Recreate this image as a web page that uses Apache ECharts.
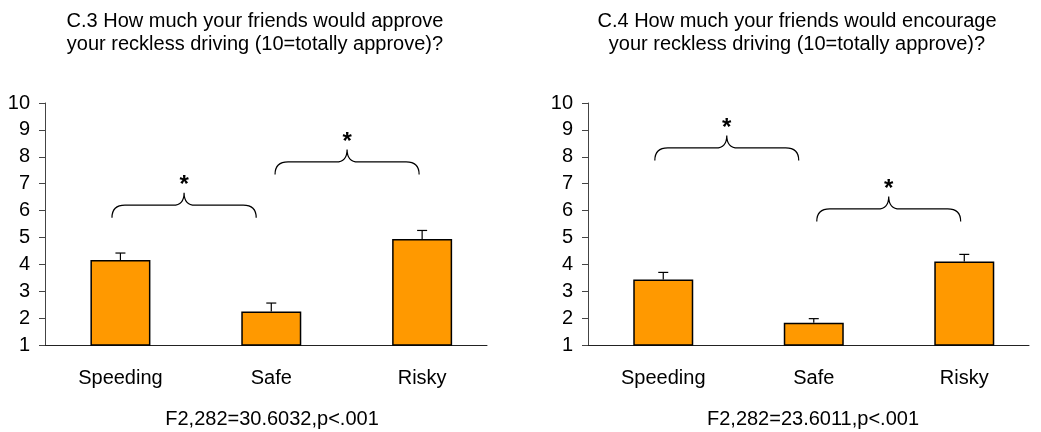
<!DOCTYPE html>
<html>
<head>
<meta charset="utf-8">
<script src="https://cdn.jsdelivr.net/npm/echarts@6/dist/echarts.min.js"></script>
<style>
html,body{margin:0;padding:0;background:#fff;}
#chart{width:1041px;height:432px;}
</style>
</head>
<body>
<div id="chart"></div>
<script>
// ---- data ----
const categories = ['Speeding', 'Safe', 'Risky'];
const yTicks = [1, 2, 3, 4, 5, 6, 7, 8, 9, 10];

const titleC3 = 'C.3 How much your friends would approve\nyour reckless driving (10=totally approve)?';
const titleC4 = 'C.4 How much your friends would encourage\nyour reckless driving (10=totally approve)?';
const footerC3 = 'F2,282=30.6032,p<.001';
const footerC4 = 'F2,282=23.6011,p<.001';

const meanC3 = [4.16, 2.25, 4.94];
const upperC3 = [4.42, 2.56, 5.26];
const meanC4 = [3.44, 1.83, 4.11];
const upperC4 = [3.70, 1.98, 4.37];

// braces: [from (category units), to (category units), level of horizontal stroke]
const bracesC3 = [[-0.056, 0.90, 6.2], [1.025, 1.98, 7.81]];
const bracesC4 = [[-0.056, 0.90, 8.33], [1.02, 1.976, 6.06]];
const braceMark = '*';

// ---- styles ----
const FONT = '"Liberation Sans", Arial, sans-serif';
const BAR_COLOR = '#FF9900';

const chart = echarts.init(document.getElementById('chart'), null, {renderer: 'canvas'});

function makeXAxis(gridIndex) {
  return {
    type: 'value', gridIndex: gridIndex, min: -0.5, max: 2.43,
    splitLine: {show: false},
    axisLine: {show: true, onZero: false, lineStyle: {color: '#222', width: 1}},
    axisTick: {show: false},
    axisLabel: {
      show: true, customValues: categories.map((c, i) => i),
      formatter: v => categories[Math.round(v)] || '',
      color: '#000', fontSize: 20, fontFamily: FONT, margin: 23
    }
  };
}
function makeYAxis(gridIndex) {
  return {
    type: 'value', gridIndex: gridIndex, min: yTicks[0], max: yTicks[yTicks.length - 1], interval: 1,
    splitLine: {show: false},
    axisLine: {show: true, onZero: false, lineStyle: {color: '#444', width: 1}},
    axisTick: {show: true, inside: false, length: 6, lineStyle: {color: '#444'}},
    axisLabel: {color: '#000', fontSize: 20, fontFamily: FONT, margin: 15}
  };
}

function barSeries(idx, means) {
  return {
    type: 'bar', xAxisIndex: idx, yAxisIndex: idx,
    barWidth: 60,
    itemStyle: {color: BAR_COLOR, borderColor: '#000', borderWidth: 1.5},
    data: means.map((v, i) => [i, v]),
    z: 2
  };
}

function errSeries(idx, means, uppers) {
  return {
    type: 'custom', xAxisIndex: idx, yAxisIndex: idx, z: 3,
    data: means.map((v, i) => [i, v, uppers[i]]),
    renderItem: function (params, api) {
      const p0 = api.coord([api.value(0), api.value(1)]);
      const p1 = api.coord([api.value(0), api.value(2)]);
      const st = {stroke: '#000', lineWidth: 1.2, fill: null};
      return {
        type: 'group',
        children: [
          {type: 'line', shape: {x1: p0[0], y1: p0[1], x2: p1[0], y2: p1[1]}, style: st},
          {type: 'line', shape: {x1: p1[0] - 5, y1: p1[1], x2: p1[0] + 5, y2: p1[1]}, style: st}
        ]
      };
    }
  };
}

function braceSeries(idx, braces) {
  return {
    type: 'custom', xAxisIndex: idx, yAxisIndex: idx, z: 4, clip: false,
    data: braces,
    renderItem: function (params, api) {
      const a = api.coord([api.value(0), api.value(2)]);
      const b = api.coord([api.value(1), api.value(2)]);
      const yH = a[1];
      const yE = yH + 12.5;
      const yP = yH - 12.5;
      const xa = a[0], xb = b[0], xm = (xa + xb) / 2;
      const re = 13, rm = 11;
      const d = 'M' + xa + ' ' + yE +
        ' Q' + xa + ' ' + yH + ' ' + (xa + re) + ' ' + yH +
        ' L' + (xm - rm) + ' ' + yH +
        ' Q' + xm + ' ' + yH + ' ' + xm + ' ' + yP +
        ' Q' + xm + ' ' + yH + ' ' + (xm + rm) + ' ' + yH +
        ' L' + (xb - re) + ' ' + yH +
        ' Q' + xb + ' ' + yH + ' ' + xb + ' ' + yE;
      return {
        type: 'group',
        children: [
          {type: 'path', shape: {pathData: d}, style: {stroke: '#000', lineWidth: 1.2, fill: null}},
          {type: 'text', x: xm, y: yP - 7, style: {text: braceMark, fill: '#000', font: 'bold 24px ' + FONT, textAlign: 'center', textVerticalAlign: 'middle'}}
        ]
      };
    }
  };
}

const option = {
  backgroundColor: '#fff',
  animation: false,
  title: [
    {text: titleC3, left: 255, top: 10, textAlign: 'center', padding: 0,
     textStyle: {fontSize: 20, fontWeight: 'normal', color: '#000', fontFamily: FONT, lineHeight: 23, align: 'center'}},
    {text: titleC4, left: 797, top: 10, textAlign: 'center', padding: 0,
     textStyle: {fontSize: 20, fontWeight: 'normal', color: '#000', fontFamily: FONT, lineHeight: 23, align: 'center'}},
    {text: footerC3, left: 272, top: 408, textAlign: 'center', padding: 0,
     textStyle: {fontSize: 20, fontWeight: 'normal', color: '#000', fontFamily: FONT, lineHeight: 23}},
    {text: footerC4, left: 813, top: 408, textAlign: 'center', padding: 0,
     textStyle: {fontSize: 20, fontWeight: 'normal', color: '#000', fontFamily: FONT, lineHeight: 23}}
  ],
  grid: [
    {left: 45, top: 103, width: 442, height: 242, containLabel: false},
    {left: 588, top: 103, width: 441, height: 242, containLabel: false}
  ],
  xAxis: [makeXAxis(0), makeXAxis(1)],
  yAxis: [makeYAxis(0), makeYAxis(1)],
  series: [
    barSeries(0, meanC3), errSeries(0, meanC3, upperC3), braceSeries(0, bracesC3),
    barSeries(1, meanC4), errSeries(1, meanC4, upperC4), braceSeries(1, bracesC4)
  ]
};
chart.setOption(option);
</script>
</body>
</html>
